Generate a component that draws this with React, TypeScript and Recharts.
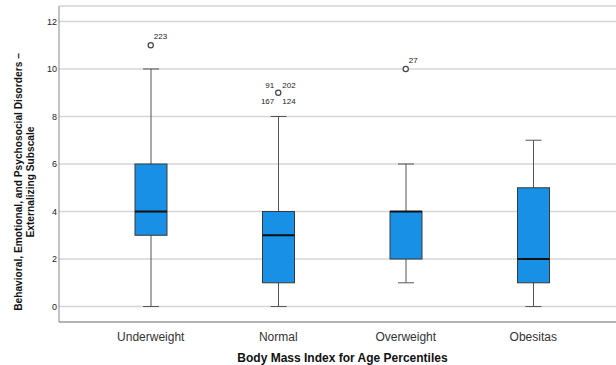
import { ComposedChart, Bar, Scatter, XAxis, YAxis, CartesianGrid } from 'recharts'

const categories = ['Underweight', 'Normal', 'Overweight', 'Obesitas']
const mins = [0, 0, 1, 0]
const q1s = [3, 1, 2, 1]
const medians = [4, 3, 4, 2]
const q3s = [6, 4, 4, 5]
const maxs = [10, 8, 6, 7]
const outliers: (number | null)[] = [11, 9, 10, null]
const outlierIds: string[][] = [['223'], ['91', '202', '167', '124'], ['27'], []]
const yTicks = [0, 2, 4, 6, 8, 10, 12]

const data = categories.map((name, i) => ({
  name,
  range: [mins[i], maxs[i]],
  q1: q1s[i],
  median: medians[i],
  q3: q3s[i],
  min: mins[i],
  max: maxs[i],
  outlier: outliers[i],
  ids: outlierIds[i],
}))

const FONT = '"Liberation Sans", Arial, sans-serif'

// draws whisker + box + median from the bar's [min, max] pixel range
function BoxShape(props: any) {
  const { x, y, width, height, payload } = props
  const { min, max, q1, q3, median } = payload
  const py = (v: number) => y + (height * (max - v)) / (max - min)
  const cx = x + width / 2
  const cap = 8
  return (
    <g>
      <line x1={cx} x2={cx} y1={py(max)} y2={py(min)} stroke="#555" strokeWidth={1} />
      <line x1={cx - cap} x2={cx + cap} y1={py(max)} y2={py(max)} stroke="#555" strokeWidth={1} />
      <line x1={cx - cap} x2={cx + cap} y1={py(min)} y2={py(min)} stroke="#555" strokeWidth={1} />
      <rect x={x} y={py(q3)} width={width} height={py(q1) - py(q3)} fill="#1790e6" stroke="#3a3a3a" strokeWidth={1} />
      <line x1={x} x2={x + width} y1={py(median)} y2={py(median)} stroke="#111" strokeWidth={2} />
    </g>
  )
}

const idOffsets = [
  [-4, -5, 'end'],
  [4, -5, 'start'],
  [-4, 11, 'end'],
  [4, 11, 'start'],
]

function OutlierShape(props: any) {
  const { cx, cy, payload } = props
  if (payload.outlier == null) return <g />
  const ids: string[] = payload.ids
  const many = ids.length > 1
  return (
    <g>
      <circle cx={cx} cy={cy} r={2.6} fill="#fff" stroke="#444" strokeWidth={1.2} />
      {ids.map((id, i) => {
        const o = many ? idOffsets[i] : [3, -6, 'start']
        return (
          <text key={id} x={cx + (o[0] as number)} y={cy + (o[1] as number)} fontSize={8} fontFamily={FONT} fill="#222" textAnchor={o[2] as any}>
            {id}
          </text>
        )
      })}
    </g>
  )
}

const YLabel = () => (
  <text transform="translate(0,182) rotate(-90)" fontFamily={FONT} fontSize={10.2} fontWeight="bold" fill="#111" textAnchor="middle">
    <tspan x={0} y={22}>Behavioral, Emotional, and Psychosocial Disorders –</tspan>
    <tspan x={0} y={34}>Externalizing Subscale</tspan>
  </text>
)

export default function App() {
  return (
    <div style={{ position: 'absolute', left: 0, top: 0, background: '#fff' }}>
      <ComposedChart width={616} height={365} data={data} margin={{ top: 6, right: 0, left: 0, bottom: 13 }}>
        <CartesianGrid vertical={false} stroke="#d6d6d6" strokeWidth={1.5} />
        <XAxis
          dataKey="name"
          height={30}
          tickLine={false}
          axisLine={{ stroke: '#888' }}
          padding={{ left: 28, right: 19 }}
          tick={{ fontSize: 12, fill: '#333', fontFamily: FONT }}
          tickMargin={4}
          label={{ value: 'Body Mass Index for Age Percentiles', position: 'insideBottom', offset: -10, fontSize: 12, fontWeight: 'bold', fill: '#111', fontFamily: FONT, dx: 5 }}
        />
        <YAxis
          width={59}
          domain={[-0.65, 12.65]}
          ticks={yTicks}
          tickLine={false}
          axisLine={{ stroke: '#888' }}
          tick={{ fontSize: 9, fill: '#222', fontFamily: FONT }}
          tickMargin={-4}
          label={<YLabel />}
        />
        <Bar dataKey="range" barSize={32} shape={<BoxShape />} isAnimationActive={false} />
        <Scatter dataKey="outlier" shape={<OutlierShape />} isAnimationActive={false} />
      </ComposedChart>
    </div>
  )
}
